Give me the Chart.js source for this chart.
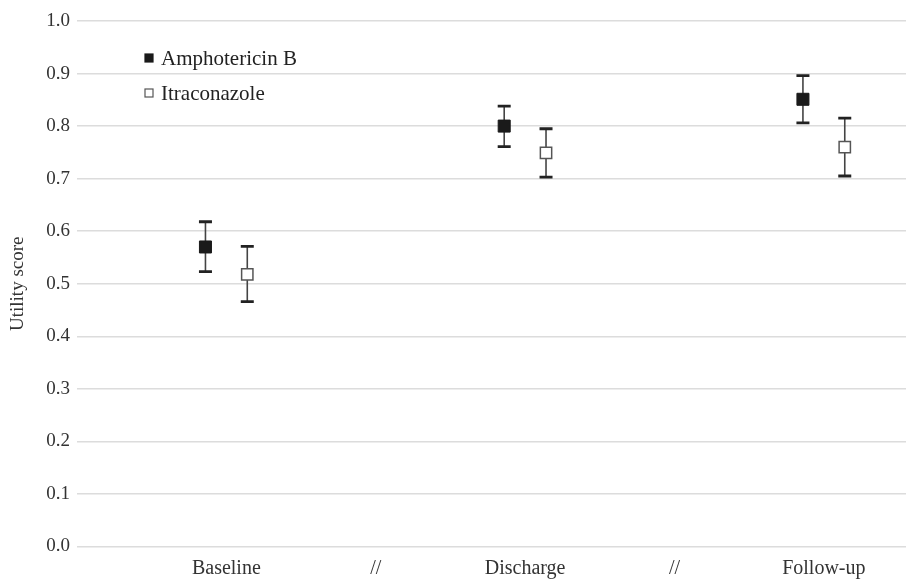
<!DOCTYPE html>
<html>
<head>
<meta charset="utf-8">
<script src="https://cdn.jsdelivr.net/npm/chart.js@4.4.1/dist/chart.umd.min.js"></script>
<style>
  body { margin: 0; background: #fff; }
  #wrap { width: 906px; height: 580px; position: relative; }
</style>
</head>
<body>
<div id="wrap"><canvas id="myChart"></canvas></div>
<script>
// utility scores by time point, mean with 95% CI
const categories = ["Baseline", "//", "Discharge", "//", "Follow-up"];
const timePoints = [0, 2, 4];
const seriesNames = ["Amphotericin B", "Itraconazole"];
const amphoMean = [0.570, 0.800, 0.851];
const amphoLow = [0.523, 0.761, 0.806];
const amphoHigh = [0.618, 0.838, 0.896];
const itraMean = [0.518, 0.749, 0.760];
const itraLow = [0.466, 0.703, 0.705];
const itraHigh = [0.571, 0.795, 0.815];
const yTicks = [0, 0.1, 0.2, 0.3, 0.4, 0.5, 0.6, 0.7, 0.8, 0.9, 1.0];

const FONT = "'Liberation Serif', 'DejaVu Serif', serif";
const shift = 0.14;

function points(mean, dx) {
  return timePoints.map((t, i) => ({ x: t + dx, y: mean[i] }));
}

// draws the CI whiskers under the markers
const errorBars = {
  id: "errorBars",
  beforeDatasetsDraw(chart) {
    const ctx = chart.ctx;
    const y = chart.scales.y;
    chart.data.datasets.forEach((ds, di) => {
      const meta = chart.getDatasetMeta(di);
      meta.data.forEach((pt, i) => {
        const top = y.getPixelForValue(ds.hi[i]);
        const bot = y.getPixelForValue(ds.lo[i]);
        ctx.save();
        ctx.strokeStyle = "#444";
        ctx.lineWidth = 1.6;
        ctx.beginPath();
        ctx.moveTo(pt.x, top);
        ctx.lineTo(pt.x, bot);
        ctx.stroke();
        ctx.strokeStyle = "#222";
        ctx.lineWidth = 2.8;
        ctx.beginPath();
        ctx.moveTo(pt.x - 6.5, top);
        ctx.lineTo(pt.x + 6.5, top);
        ctx.moveTo(pt.x - 6.5, bot);
        ctx.lineTo(pt.x + 6.5, bot);
        ctx.stroke();
        ctx.restore();
      });
    });
  }
};

// legend sits inside the plot, top left
const innerLegend = {
  id: "innerLegend",
  afterDraw(chart) {
    const ctx = chart.ctx;
    chart.data.datasets.forEach((ds, di) => {
      const cy = 58 + di * 35;
      ctx.save();
      ctx.fillStyle = ds.backgroundColor;
      ctx.strokeStyle = ds.borderColor;
      ctx.lineWidth = 1.2;
      ctx.fillRect(145, cy - 4, 8, 8);
      ctx.strokeRect(145, cy - 4, 8, 8);
      ctx.fillStyle = "#222";
      ctx.font = "21px " + FONT;
      ctx.textBaseline = "middle";
      ctx.fillText(ds.label, 161, cy + 1);
      ctx.restore();
    });
  }
};

var ctx = document.getElementById("myChart").getContext("2d");
var myChart = new Chart(ctx, {
  type: "scatter",
  data: {
    datasets: [
      {
        label: seriesNames[0],
        data: points(amphoMean, -shift),
        lo: amphoLow,
        hi: amphoHigh,
        pointStyle: "rect",
        pointRadius: 8.5,
        backgroundColor: "#1a1a1a",
        borderColor: "#1a1a1a",
        borderWidth: 1,
      },
      {
        label: seriesNames[1],
        data: points(itraMean, shift),
        lo: itraLow,
        hi: itraHigh,
        pointStyle: "rect",
        pointRadius: 8,
        backgroundColor: "#ffffff",
        borderColor: "#555",
        borderWidth: 1.5,
      },
    ],
  },
  options: {
    responsive: true,
    maintainAspectRatio: false,
    animation: false,
    layout: { autoPadding: false, padding: { top: 21, right: 0, bottom: 0, left: 0 } },
    plugins: {
      legend: { display: false },
      tooltip: { enabled: false },
    },
    scales: {
      x: {
        type: "linear",
        min: -1.0,
        max: 4.55,
        grid: { display: false, drawTicks: false },
        border: { display: false },
        afterBuildTicks: (axis) => {
          axis.ticks = categories.map((c, i) => ({ value: i }));
        },
        afterFit: (axis) => {
          axis.height = 33.5;
          axis.paddingLeft = 0;
          axis.paddingRight = 0;
        },
        ticks: {
          padding: 10,
          color: "#333",
          font: { family: FONT, size: 20 },
          callback: (v) => categories[v],
        },
      },
      y: {
        min: 0,
        max: 1,
        afterBuildTicks: (axis) => {
          axis.ticks = yTicks.map((v) => ({ value: v }));
        },
        afterFit: (axis) => { axis.width = 77; },
        grid: { color: "#dcdcdc", lineWidth: 1.5, drawTicks: false },
        border: { display: false },
        ticks: {
          padding: 7,
          color: "#333",
          font: { family: FONT, size: 19 },
          callback: (v) => v.toFixed(1),
        },
        title: {
          display: true,
          text: "Utility score",
          color: "#333",
          font: { family: FONT, size: 19 },
          padding: { top: 7, bottom: 0 },
        },
      },
    },
  },
  plugins: [errorBars, innerLegend],
});
</script>
</body>
</html>
